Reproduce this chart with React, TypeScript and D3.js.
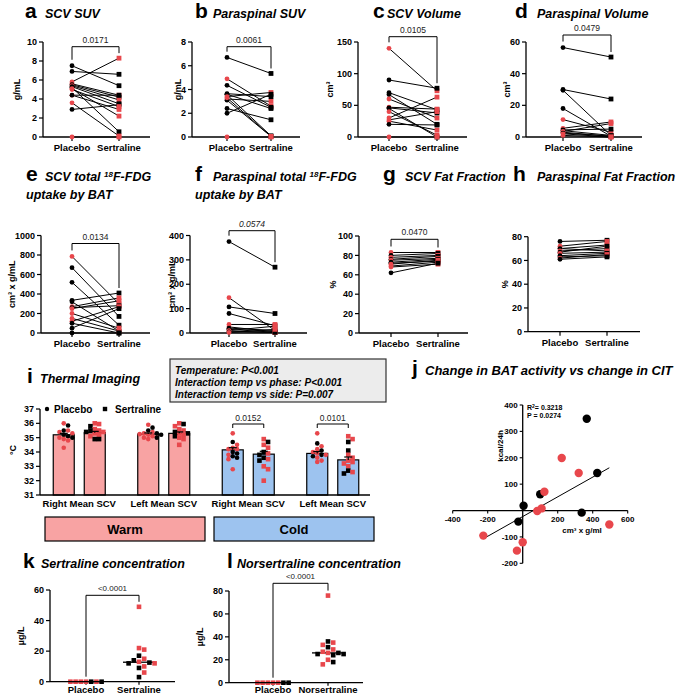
import React from 'react';
import * as d3 from 'd3';

const RED = '#e8474c';
const FONT = '"Liberation Sans", Arial, Helvetica, sans-serif';
const colorOf = (g: number) => (g === 1 ? RED : '#000');

const pairedCategories = ['Placebo', 'Sertraline'];

// a  SCV SUV (g/mL)
const scvSuvPlacebo = [7.5, 6.9, 5.8, 5.6, 5.5, 5.4, 5.3, 5.2, 5.1, 4.4, 4.4, 3.6, 2.9, 0, 5.0];
const scvSuvSertraline = [5.4, 6.6, 8.3, 4.4, 4.2, 3.9, 3.5, 0.55, 2.2, 2.9, 4.4, 0.1, 3.4, 0, 3.2];
const scvSuvGroup = [0, 0, 1, 1, 0, 1, 0, 0, 1, 1, 0, 1, 0, 1, 1];

// b  Paraspinal SUV (g/mL)
const paraSuvPlacebo = [6.7, 4.9, 4.35, 3.65, 3.6, 3.55, 3.4, 3.2, 3.1, 2.4, 2.0, 3.3, 0];
const paraSuvSertraline = [5.35, 2.6, 2.5, 3.4, 2.4, 0.1, 3.75, 3.0, 0.05, 1.45, 3.6, 0.05, 0];
const paraSuvGroup = [0, 1, 0, 0, 0, 0, 1, 1, 0, 0, 0, 1, 1];

// c  SCV volume (cm3)
const scvVolPlacebo = [140, 90, 70, 67, 60, 47, 46, 45, 40, 30, 27, 25, 20, 0];
const scvVolSertraline = [73, 77, 43, 20, 30, 44, 38, 0, 3, 63, 40, 11, 19, 0];
const scvVolGroup = [1, 0, 0, 0, 1, 1, 0, 0, 1, 1, 1, 1, 0, 1];

// d  Paraspinal volume (cm3)
const paraVolPlacebo = [56.5, 30, 29.5, 18, 11, 5.5, 4.5, 4, 3.5, 3, 2.5, 2, 1];
const paraVolSertraline = [50.5, 24, 1, 0.5, 3, 9.5, 5, 1, 8.5, 0.5, 0.5, 0, 0];
const paraVolGroup = [0, 0, 0, 0, 1, 1, 0, 0, 1, 1, 0, 1, 1];

// e  SCV total 18F-FDG uptake
const scvFdgPlacebo = [785, 670, 520, 335, 320, 270, 260, 250, 200, 150, 120, 100, 50, 0];
const scvFdgSertraline = [300, 170, 80, 410, 20, 360, 280, 330, 50, 20, 270, 0, 250, 0];
const scvFdgGroup = [1, 0, 0, 0, 0, 1, 0, 1, 1, 1, 1, 0, 0, 0];

// f  Paraspinal total 18F-FDG uptake
const paraFdgPlacebo = [375, 145, 107, 80, 35, 25, 20, 15, 10, 8, 5, 2];
const paraFdgSertraline = [270, 10, 80, 30, 35, 5, 10, 3, 28, 2, 3, 15];
const paraFdgGroup = [0, 1, 0, 0, 1, 1, 0, 0, 1, 1, 0, 1];

// g  SCV fat fraction (%)
const scvFatPlacebo = [83, 80, 78, 76, 75, 73, 72, 71, 69, 68, 62];
const scvFatSertraline = [83, 82, 80, 79, 77, 76, 74, 75, 73, 71, 72];
const scvFatGroup = [1, 0, 1, 0, 1, 0, 0, 1, 1, 1, 0];

// h  Paraspinal fat fraction (%)
const paraFatPlacebo = [76, 72, 70, 70, 68, 67, 66, 64, 63, 62, 61];
const paraFatSertraline = [77, 76, 73, 68, 70, 72, 67, 66, 64, 65, 63];
const paraFatGroup = [0, 1, 1, 0, 1, 0, 1, 0, 0, 1, 0];

// i  Thermal imaging
const thermalSites = ['Right Mean SCV', 'Left Mean SCV', 'Right Mean SCV', 'Left Mean SCV'];
const thermalConditions = ['Warm', 'Cold'];
const thermalMeanPlacebo = [35.2, 35.25, 34.15, 33.9];
const thermalMeanSertraline = [35.35, 35.3, 33.85, 33.45];
const thermalSemPlacebo = [0.1, 0.08, 0.15, 0.13];
const thermalSemSertraline = [0.09, 0.1, 0.2, 0.2];
const thermalPlacebo = [
  [36.0, 35.85, 35.5, 35.5, 35.4, 35.3, 35.2, 35.1, 35.0, 35.0, 34.9, 34.8, 34.3],
  [35.9, 35.7, 35.5, 35.4, 35.3, 35.3, 35.2, 35.25, 35.1, 35.0, 35.0, 34.9, 35.2],
  [35.3, 34.7, 34.5, 34.3, 34.2, 34.2, 34.0, 33.9, 33.8, 33.7, 33.6, 33.5, 32.8],
  [35.3, 34.6, 34.4, 34.2, 34.1, 34.0, 33.9, 33.8, 33.8, 33.7, 33.6, 33.4, 33.3],
];
const thermalPlaceboGroup = [
  [1, 0, 0, 1, 1, 1, 0, 0, 1, 0, 1, 1, 1],
  [1, 0, 0, 1, 1, 0, 1, 1, 1, 1, 0, 1, 0],
  [1, 0, 1, 1, 1, 1, 0, 0, 1, 0, 0, 1, 1],
  [1, 0, 1, 1, 0, 1, 1, 0, 1, 0, 1, 1, 1],
];
const thermalSertraline = [
  [36.0, 35.95, 35.8, 35.6, 35.5, 35.5, 35.4, 35.4, 35.3, 35.2, 35.1, 34.9, 34.9],
  [36.0, 35.95, 35.8, 35.6, 35.5, 35.4, 35.3, 35.3, 35.2, 35.1, 35.0, 34.9, 34.5],
  [34.9, 34.7, 34.5, 34.3, 34.0, 33.9, 33.8, 33.6, 33.5, 33.4, 33.0, 32.8, 32.0],
  [35.1, 34.9, 34.7, 34.1, 33.8, 33.6, 33.4, 33.3, 33.2, 33.0, 32.7, 32.6, 32.5],
];
const thermalSertralineGroup = [
  [1, 1, 0, 1, 1, 0, 1, 0, 1, 1, 1, 0, 0],
  [1, 0, 1, 1, 1, 0, 1, 0, 1, 0, 1, 1, 1],
  [1, 0, 1, 1, 0, 1, 0, 0, 1, 0, 1, 1, 1],
  [1, 1, 0, 0, 1, 1, 1, 1, 1, 1, 0, 1, 0],
];
const thermalStats = [
  'Temperature: P<0.001',
  'Interaction temp vs phase: P<0.001',
  'Interaction temp vs side: P=0.007',
];
const thermalPValues = ['', '', '0.0152', '0.0101'];

// j  Change in BAT activity vs change in CIT
const batChange = [366, 426, 100, 5, 337, -25, 223, 320, 124, 83, 108, 495, -225, 0, -33];
const citChange = [348, 142, 62, 18, -8, -42, 199, 142, 71, -2, 8, -53, -95, -120, -152];
const citGroup = [0, 0, 0, 0, 0, 0, 1, 1, 1, 1, 1, 1, 1, 1, 1];

// k  Sertraline concentration (µg/L)
const sertConcPlacebo = [0, 0, 0, 0, 0, 0, 0];
const sertConcPlaceboGroup = [1, 0, 1, 1, 1, 0, 1];
const sertConcSertraline = [49, 22, 21, 17, 15, 14, 13, 12.5, 12, 12, 10, 9, 6, 3];
const sertConcSertralineGroup = [1, 1, 1, 0, 1, 0, 1, 0, 0, 1, 1, 0, 1, 0];

// l  Norsertraline concentration (µg/L)
const norConcPlacebo = [0, 0, 0, 0, 0, 0, 0];
const norConcPlaceboGroup = [1, 1, 1, 0, 1, 0, 1];
const norConcNor = [76, 36, 35, 33, 31, 29, 27, 26, 26, 25, 25, 24, 20, 18, 16];
const norConcNorGroup = [1, 0, 1, 1, 0, 1, 1, 1, 0, 0, 0, 0, 1, 0, 1];

function dodge(ys: number[], size: number, step: number) {
  const placed: { x: number; y: number }[] = [];
  return ys.map((y) => {
    for (let k = 0; k < 60; k++) {
      const off = k === 0 ? 0 : (k % 2 ? 1 : -1) * Math.ceil(k / 2) * step;
      if (placed.every((p) => Math.abs(p.x - off) >= size || Math.abs(p.y - y) >= size)) {
        placed.push({ x: off, y });
        return off;
      }
    }
    return 0;
  });
}

function Marker({ x, y, shape, fill, r = 2.4 }: { x: number; y: number; shape: 'circle' | 'square'; fill: string; r?: number }) {
  if (shape === 'circle') return <circle cx={x} cy={y} r={r} fill={fill} />;
  return <rect x={x - r} y={y - r} width={r * 2} height={r * 2} fill={fill} />;
}

function Title({ letterX, textX, y, letter, size = 12.5, children }: { letterX: number; textX: number; y: number; letter: string; size?: number; children: React.ReactNode }) {
  return (
    <g>
      <text x={letterX} y={y} fontSize={21} fontWeight="bold">{letter}</text>
      <text x={textX} y={y} fontSize={size} fontWeight="bold" fontStyle="italic">{children}</text>
    </g>
  );
}

function YLabel({ x, y, text, size = 9 }: { x: number; y: number; text: string; size?: number }) {
  return (
    <text transform={`translate(${x},${y}) rotate(-90)`} textAnchor="middle" fontSize={size} fontWeight="bold">
      {text}
    </text>
  );
}

interface PairedProps {
  placebo: number[];
  sertraline: number[];
  group: number[];
  max: number;
  step: number;
  axisX: number;
  right: number;
  top: number;
  bottom: number;
  xs: [number, number];
  yLabel: string;
  yLabelX: number;
  pText?: string;
  pItalic?: boolean;
  bracketY?: number;
}

function PairedPanel(p: PairedProps) {
  const y = d3.scaleLinear().domain([0, p.max]).range([p.bottom, p.top]);
  const x = d3.scalePoint<string>().domain(pairedCategories).range(p.xs);
  const ticks = d3.range(0, p.max + p.step / 2, p.step);
  const xP = x('Placebo')!;
  const xS = x('Sertraline')!;
  const order = d3.range(p.placebo.length);
  return (
    <g>
      {ticks.map((t) => (
        <g key={t}>
          <line x1={p.axisX - 4} x2={p.axisX} y1={y(t)} y2={y(t)} stroke="#000" strokeWidth={1.2} />
          <text x={p.axisX - 6} y={y(t)} dy="0.35em" textAnchor="end" fontSize={9} fontWeight="bold">{t}</text>
        </g>
      ))}
      {pairedCategories.map((c) => (
        <g key={c}>
          <line x1={x(c)} x2={x(c)} y1={p.bottom} y2={p.bottom + 4} stroke="#000" strokeWidth={1.2} />
          <text x={x(c)} y={p.bottom + 14} textAnchor="middle" fontSize={9.5} fontWeight="bold">{c}</text>
        </g>
      ))}
      <line x1={p.axisX} x2={p.axisX} y1={p.top} y2={p.bottom} stroke="#000" strokeWidth={1.3} />
      <line x1={p.axisX} x2={p.right} y1={p.bottom} y2={p.bottom} stroke="#000" strokeWidth={1.3} />
      {order.map((i) => (
        <line key={`l${i}`} x1={xP} x2={xS} y1={y(p.placebo[i])} y2={y(p.sertraline[i])} stroke="#000" strokeWidth={1} />
      ))}
      {order.map((i) => (
        <g key={`m${i}`}>
          <Marker x={xP} y={y(p.placebo[i])} shape="circle" fill={colorOf(p.group[i])} />
          <Marker x={xS} y={y(p.sertraline[i])} shape="square" fill={colorOf(p.group[i])} />
        </g>
      ))}
      {p.pText && p.bracketY !== undefined && (
        <g>
          <path
            d={`M${xP},${Math.max(p.bracketY + 5, y(d3.max(p.placebo)!) - 6)}V${p.bracketY}H${xS}V${Math.max(p.bracketY + 5, y(d3.max(p.sertraline)!) - 5)}`}
            fill="none"
            stroke="#000"
            strokeWidth={1}
          />
          <text x={(xP + xS) / 2} y={p.bracketY - 4} textAnchor="middle" fontSize={8.5} fill="#222" fontStyle={p.pItalic ? 'italic' : 'normal'}>
            {p.pText}
          </text>
        </g>
      )}
      <YLabel x={p.yLabelX} y={(p.top + p.bottom) / 2} text={p.yLabel} />
    </g>
  );
}

function ThermalPanel() {
  const y = d3.scaleLinear().domain([31, 37]).range([495, 409]);
  const groupBand = d3.scaleBand<number>().domain(d3.range(thermalSites.length)).range([37, 375]);
  const pairBand = d3.scaleBand<string>().domain(pairedCategories).range([-26, 26]).paddingInner(0.323);
  const bw = pairBand.bandwidth();
  const gw = groupBand.bandwidth();
  const ticks = d3.range(31, 38, 1);
  const series = [
    { key: 'Placebo', mean: thermalMeanPlacebo, sem: thermalSemPlacebo, pts: thermalPlacebo, grp: thermalPlaceboGroup, shape: 'circle' as const },
    { key: 'Sertraline', mean: thermalMeanSertraline, sem: thermalSemSertraline, pts: thermalSertraline, grp: thermalSertralineGroup, shape: 'square' as const },
  ];
  return (
    <g>
      {thermalSites.map((site, gi) => {
        const fill = gi < 2 ? '#f8a3a3' : '#9dc3ef';
        const gx = groupBand(gi)! + gw / 2;
        return (
          <g key={gi}>
            {series.map((s) => {
              const x0 = gx + pairBand(s.key)!;
              const cx = x0 + bw / 2;
              const m = s.mean[gi];
              const offs = dodge(s.pts[gi].map((v) => y(v)), 4.2, 4.3);
              return (
                <g key={s.key}>
                  <rect x={x0} y={y(m)} width={bw} height={y(31) - y(m)} fill={fill} stroke="#000" strokeWidth={1.2} />
                  {s.pts[gi].map((v, i) => (
                    <Marker key={i} x={cx + offs[i]} y={y(v)} shape={s.shape} fill={colorOf(s.grp[gi][i])} r={2.3} />
                  ))}
                  <line x1={cx} x2={cx} y1={y(m)} y2={y(m + s.sem[gi])} stroke="#000" strokeWidth={1.2} />
                  <line x1={cx - 4} x2={cx + 4} y1={y(m + s.sem[gi])} y2={y(m + s.sem[gi])} stroke="#000" strokeWidth={1.2} />
                </g>
              );
            })}
            <text x={gx} y={507} textAnchor="middle" fontSize={9.5} fontWeight="bold">{site}</text>
            {thermalPValues[gi] && (
              <g>
                <path
                  d={`M${gx + pairBand('Placebo')! + bw / 2},428V424H${gx + pairBand('Sertraline')! + bw / 2}V428`}
                  fill="none"
                  stroke="#000"
                  strokeWidth={1}
                />
                <text x={gx} y={420.5} textAnchor="middle" fontSize={8.5} fill="#222">{thermalPValues[gi]}</text>
              </g>
            )}
          </g>
        );
      })}
      {ticks.map((t) => (
        <g key={t}>
          <line x1={36} x2={40} y1={y(t)} y2={y(t)} stroke="#000" strokeWidth={1.2} />
          <text x={34} y={y(t)} dy="0.35em" textAnchor="end" fontSize={9} fontWeight="bold">{t}</text>
        </g>
      ))}
      <line x1={40} x2={40} y1={y(37)} y2={y(31)} stroke="#000" strokeWidth={1.3} />
      <line x1={40} x2={370} y1={y(31)} y2={y(31)} stroke="#000" strokeWidth={1.3} />
      <YLabel x={16} y={450} text="°C" />
      <Marker x={47} y={409} shape="circle" fill="#000" r={2.2} />
      <text x={54} y={412.5} fontSize={10} fontWeight="bold">Placebo</text>
      <Marker x={105} y={409} shape="square" fill="#000" r={2.2} />
      <text x={115} y={412.5} fontSize={10} fontWeight="bold">Sertraline</text>
      {thermalConditions.map((c, ci) => {
        const x1 = groupBand(ci * 2)! + 8;
        const x2 = groupBand(ci * 2 + 1)! + gw - 1;
        return (
          <g key={c}>
            <rect x={x1} y={517} width={x2 - x1} height={24} fill={ci === 0 ? '#f8a3a3' : '#9dc3ef'} stroke="#000" strokeWidth={1.2} />
            <text x={(x1 + x2) / 2} y={534} textAnchor="middle" fontSize={13} fontWeight="bold">{c}</text>
          </g>
        );
      })}
      <rect x={170} y={359} width={216} height={43} fill="#ececec" stroke="#333" strokeWidth={1.2} />
      {thermalStats.map((s, i) => (
        <text key={i} x={175} y={373.5 + i * 12.2} fontSize={10} fontWeight="bold" fontStyle="italic">{s}</text>
      ))}
    </g>
  );
}

function ScatterPanel() {
  const x = d3.scaleLinear().domain([-400, 600]).range([452.7, 627.7]);
  const y = d3.scaleLinear().domain([-200, 400]).range([563.3, 405]);
  const mx = d3.mean(batChange)!;
  const my = d3.mean(citChange)!;
  const sxy = d3.sum(batChange, (v, i) => (v - mx) * (citChange[i] - my));
  const sxx = d3.sum(batChange, (v) => (v - mx) ** 2);
  const slope = sxy / sxx;
  const icpt = my - slope * mx;
  const [x0, x1] = d3.extent(batChange) as [number, number];
  const xTicks = [-400, -200, 200, 400, 600];
  const yTicks = [-200, -100, 100, 200, 300, 400];
  return (
    <g>
      <line x1={x(-400)} x2={x(600)} y1={y(0)} y2={y(0)} stroke="#000" strokeWidth={1.3} />
      <line x1={x(0)} x2={x(0)} y1={y(-200)} y2={y(400)} stroke="#000" strokeWidth={1.3} />
      {xTicks.map((t) => (
        <g key={t}>
          <line x1={x(t)} x2={x(t)} y1={y(0)} y2={y(0) + 3} stroke="#000" strokeWidth={1.1} />
          <text x={x(t)} y={y(0) + 11.5} textAnchor="middle" fontSize={8} fontWeight="bold">{t}</text>
        </g>
      ))}
      {yTicks.map((t) => (
        <g key={t}>
          <line x1={x(0) - 3} x2={x(0)} y1={y(t)} y2={y(t)} stroke="#000" strokeWidth={1.1} />
          <text x={x(0) - 5} y={y(t)} dy="0.35em" textAnchor="end" fontSize={8} fontWeight="bold">{t}</text>
        </g>
      ))}
      <line x1={x(x0)} x2={x(x1)} y1={y(icpt + slope * x0)} y2={y(icpt + slope * x1)} stroke="#000" strokeWidth={1} />
      {batChange.map((v, i) => (
        <circle key={i} cx={x(v)} cy={y(citChange[i])} r={4.2} fill={colorOf(citGroup[i])} />
      ))}
      <text x={527} y={410} fontSize={7} fontWeight="bold">
        R<tspan fontSize={5} dy={-2.5}>2</tspan><tspan dy={2.5}>=  0.3218</tspan>
      </text>
      <text x={527} y={417.5} fontSize={7} fontWeight="bold">P = 0.0274</text>
      <YLabel x={503} y={446} text="kcal/24h" size={8} />
      <text x={582} y={532.5} textAnchor="middle" fontSize={8} fontWeight="bold">cm³ x g/ml</text>
    </g>
  );
}

interface ConcProps {
  placebo: number[];
  placeboGroup: number[];
  drug: number[];
  drugGroup: number[];
  labels: [string, string];
  max: number;
  axisX: number;
  right: number;
  top: number;
  bottom: number;
  xs: [number, number];
  bracketY: number;
}

function ConcPanel(p: ConcProps) {
  const y = d3.scaleLinear().domain([0, p.max]).range([p.bottom, p.top]);
  const x = d3.scalePoint<string>().domain(p.labels).range(p.xs);
  const ticks = d3.range(0, p.max + 10, 20);
  const cols = [
    { key: p.labels[0], vals: p.placebo, grp: p.placeboGroup },
    { key: p.labels[1], vals: p.drug, grp: p.drugGroup },
  ];
  const xP = x(p.labels[0])!;
  const xD = x(p.labels[1])!;
  return (
    <g>
      {ticks.map((t) => (
        <g key={t}>
          <line x1={p.axisX - 4} x2={p.axisX} y1={y(t)} y2={y(t)} stroke="#000" strokeWidth={1.2} />
          <text x={p.axisX - 6} y={y(t)} dy="0.35em" textAnchor="end" fontSize={9} fontWeight="bold">{t}</text>
        </g>
      ))}
      {cols.map((c) => {
        const cx = x(c.key)!;
        const offs = dodge(c.vals.map((v) => y(v)), 4.6, 5.2);
        const med = d3.median(c.vals)!;
        return (
          <g key={c.key}>
            <line x1={cx} x2={cx} y1={p.bottom} y2={p.bottom + 3} stroke="#000" strokeWidth={1.2} />
            <text x={cx} y={692.5} textAnchor="middle" fontSize={9.5} fontWeight="bold">{c.key}</text>
            <line x1={cx - 16} x2={cx + 16} y1={y(med)} y2={y(med)} stroke="#000" strokeWidth={1.3} />
            {c.vals.map((v, i) => (
              <Marker key={i} x={cx + offs[i]} y={y(v)} shape="square" fill={colorOf(c.grp[i])} r={2.3} />
            ))}
          </g>
        );
      })}
      <line x1={p.axisX} x2={p.axisX} y1={p.top} y2={p.bottom} stroke="#000" strokeWidth={1.3} />
      <line x1={p.axisX} x2={p.right} y1={p.bottom} y2={p.bottom} stroke="#000" strokeWidth={1.3} />
      <path
        d={`M${xP},${y(d3.max(p.placebo)!) - 5}V${p.bracketY}H${xD}V${y(d3.max(p.drug)!) - 5}`}
        fill="none"
        stroke="#000"
        strokeWidth={1}
      />
      <text x={(xP + xD) / 2} y={p.bracketY - 4} textAnchor="middle" fontSize={8} fill="#222">{'<0.0001'}</text>
      <YLabel x={p.axisX - 26} y={(p.top + p.bottom) / 2} text="µg/L" />
    </g>
  );
}

export default function App() {
  const sup18 = (
    <>
      <tspan fontSize={8} dy={-4.5}>18</tspan>
      <tspan dy={4.5}>F-FDG</tspan>
    </>
  );
  return (
    <svg width={680} height={696} style={{ position: 'absolute', left: 0, top: 0, background: '#fff' }}>
      <g fontFamily={FONT} fill="#000">
        <rect x={0} y={0} width={680} height={696} fill="#fff" />

        <Title letterX={25} textX={45} y={18} letter="a">SCV SUV</Title>
        <Title letterX={195} textX={213} y={18} letter="b">Paraspinal SUV</Title>
        <Title letterX={373} textX={387} y={18} letter="c">SCV Volume</Title>
        <Title letterX={515} textX={537} y={18} letter="d">Paraspinal Volume</Title>

        <PairedPanel placebo={scvSuvPlacebo} sertraline={scvSuvSertraline} group={scvSuvGroup} max={10} step={2}
          axisX={43} right={150} top={42} bottom={137} xs={[72, 119]} yLabel="g/mL" yLabelX={20} pText="0.0171" bracketY={46.7} />
        <PairedPanel placebo={paraSuvPlacebo} sertraline={paraSuvSertraline} group={paraSuvGroup} max={8} step={2}
          axisX={192} right={300} top={42} bottom={137} xs={[227, 271]} yLabel="g/mL" yLabelX={181} pText="0.0061" bracketY={46.7} />
        <PairedPanel placebo={scvVolPlacebo} sertraline={scvVolSertraline} group={scvVolGroup} max={150} step={50}
          axisX={358} right={467} top={42} bottom={137} xs={[389, 437]} yLabel="cm³" yLabelX={333} pText="0.0105" bracketY={36.7} />
        <PairedPanel placebo={paraVolPlacebo} sertraline={paraVolSertraline} group={paraVolGroup} max={60} step={20}
          axisX={526} right={642} top={42} bottom={137} xs={[563, 611]} yLabel="cm³" yLabelX={510} pText="0.0479" bracketY={35} />

        <Title letterX={26} textX={45} y={181} letter="e">SCV total {sup18}</Title>
        <text x={26} y={199} fontSize={12.5} fontWeight="bold" fontStyle="italic">uptake by BAT</text>
        <Title letterX={195} textX={213} y={181} letter="f">Paraspinal total {sup18}</Title>
        <text x={195} y={199} fontSize={12.5} fontWeight="bold" fontStyle="italic">uptake by BAT</text>
        <Title letterX={383} textX={405} y={181} letter="g">SCV Fat Fraction</Title>
        <Title letterX={513} textX={537} y={181} letter="h">Paraspinal Fat Fraction</Title>

        <PairedPanel placebo={scvFdgPlacebo} sertraline={scvFdgSertraline} group={scvFdgGroup} max={1000} step={200}
          axisX={41} right={150} top={235.5} bottom={333} xs={[72, 119]} yLabel="cm³ x g/mL" yLabelX={15} pText="0.0134" bracketY={243.5} />
        <PairedPanel placebo={paraFdgPlacebo} sertraline={paraFdgSertraline} group={paraFdgGroup} max={400} step={100}
          axisX={190} right={307} top={235.5} bottom={333} xs={[229, 275]} yLabel="cm³ x g/mL" yLabelX={175} pText="0.0574" pItalic bracketY={230.7} />
        <PairedPanel placebo={scvFatPlacebo} sertraline={scvFatSertraline} group={scvFatGroup} max={100} step={20}
          axisX={359} right={468} top={236} bottom={333} xs={[391, 438]} yLabel="%" yLabelX={336} pText="0.0470" bracketY={239.3} />
        <PairedPanel placebo={paraFatPlacebo} sertraline={paraFatSertraline} group={paraFatGroup} max={80} step={20}
          axisX={528} right={640} top={236.7} bottom={331.7} xs={[560, 607]} yLabel="%" yLabelX={508} />

        <Title letterX={27} textX={40} y={383} letter="i">Thermal Imaging</Title>
        <ThermalPanel />

        <Title letterX={412} textX={425} y={375} letter="j" size={13}>Change in BAT activity vs change in CIT</Title>
        <ScatterPanel />

        <Title letterX={23} textX={41} y={568} letter="k">Sertraline concentration</Title>
        <ConcPanel placebo={sertConcPlacebo} placeboGroup={sertConcPlaceboGroup} drug={sertConcSertraline} drugGroup={sertConcSertralineGroup}
          labels={['Placebo', 'Sertraline']} max={60} axisX={50} right={175} top={590} bottom={681.7} xs={[86, 139]} bracketY={595.3} />
        <Title letterX={227} textX={237} y={568} letter="l">Norsertraline concentration</Title>
        <ConcPanel placebo={norConcPlacebo} placeboGroup={norConcPlaceboGroup} drug={norConcNor} drugGroup={norConcNorGroup}
          labels={['Placebo', 'Norsertraline']} max={80} axisX={229} right={363} top={591} bottom={682.7} xs={[273, 328]} bracketY={583.3} />
      </g>
    </svg>
  );
}
